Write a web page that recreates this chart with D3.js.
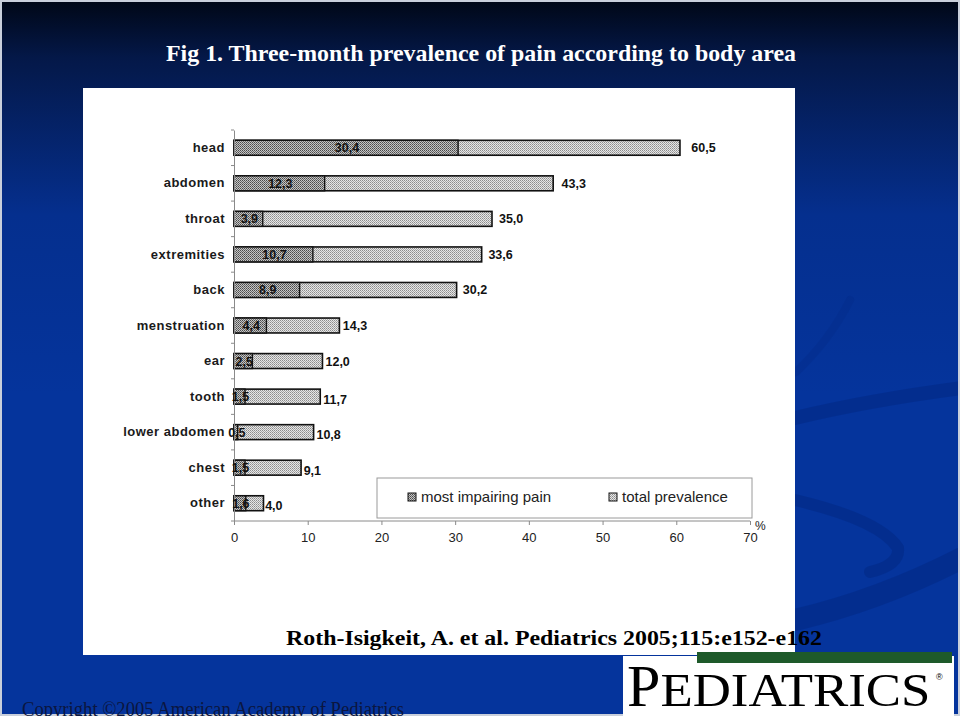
<!DOCTYPE html>
<html>
<head>
<meta charset="utf-8">
<script src="https://cdn.jsdelivr.net/npm/d3@7"></script>
<style>
html,body{margin:0;padding:0;background:#000;}
svg{display:block;}
</style>
</head>
<body>
<svg id="chart" width="960" height="716"></svg>
<script>
// ---- data ----
const categories = ["head","abdomen","throat","extremities","back","menstruation","ear","tooth","lower abdomen","chest","other"];
const totalPrevalence = [60.5,43.3,35.0,33.6,30.2,14.3,12.0,11.7,10.8,9.1,4.0];
const mostImpairing = [30.4,12.3,3.9,10.7,8.9,4.4,2.5,1.5,0.5,1.5,1.6];
const xTickValues = [0,10,20,30,40,50,60,70];
const seriesNames = ["most impairing pain","total prevalence"];
const titleText = "Fig 1. Three-month prevalence of pain according to body area";
const citationText = "Roth-Isigkeit, A. et al. Pediatrics 2005;115:e152-e162";
const copyrightText = "Copyright \u00A92005 American Academy of Pediatrics";

const svg = d3.select("#chart");
const W = 960, H = 716;
const defs = svg.append("defs");

// background gradient
const bg = defs.append("linearGradient").attr("id","bg").attr("x1",0).attr("y1",0).attr("x2",0).attr("y2",1);
bg.append("stop").attr("offset","0").attr("stop-color","#000716");
bg.append("stop").attr("offset","0.08").attr("stop-color","#041848");
bg.append("stop").attr("offset","0.3").attr("stop-color","#052f8e");
bg.append("stop").attr("offset","0.55").attr("stop-color","#05349c");
bg.append("stop").attr("offset","1").attr("stop-color","#05349c");

// patterns
const pTot = defs.append("pattern").attr("id","pTot").attr("width",2).attr("height",2).attr("patternUnits","userSpaceOnUse");
pTot.append("rect").attr("width",2).attr("height",2).attr("fill","#e6e6e6");
pTot.append("rect").attr("width",1).attr("height",1).attr("fill","#8c8c8c");
pTot.append("rect").attr("x",1).attr("y",1).attr("width",1).attr("height",1).attr("fill","#a8a8a8");
const pMip = defs.append("pattern").attr("id","pMip").attr("width",2).attr("height",2).attr("patternUnits","userSpaceOnUse");
pMip.append("rect").attr("width",2).attr("height",2).attr("fill","#c4c4c4");
pMip.append("rect").attr("width",1).attr("height",1).attr("fill","#4a4a4a");
pMip.append("rect").attr("x",1).attr("y",1).attr("width",1).attr("height",1).attr("fill","#6a6a6a");

svg.append("rect").attr("width",W).attr("height",H).attr("fill","url(#bg)");

// background streaks (decorative)
const streaks = svg.append("g").attr("fill","none").attr("stroke","#032a86").attr("stroke-linecap","round").attr("opacity",0.6);
streaks.append("path").attr("d","M795,418 Q870,400 962,388").attr("stroke-width",14);
streaks.append("path").attr("d","M795,500 Q880,520 898,548 Q900,565 870,572").attr("stroke-width",12);
streaks.append("path").attr("d","M795,620 Q880,600 962,558").attr("stroke-width",22);
streaks.append("path").attr("d","M850,300 Q830,340 796,372").attr("stroke-width",8).attr("opacity",0.5);

// border
svg.append("rect").attr("x",1).attr("y",1).attr("width",W-2).attr("height",H-2)
  .attr("fill","none").attr("stroke","#c9cfdb").attr("stroke-width",2);

// title
svg.append("text").attr("x",481).attr("y",61).attr("text-anchor","middle")
  .attr("font-family","'Liberation Serif','Times New Roman',serif").attr("font-weight","bold")
  .attr("font-size",23).attr("fill","#ffffff")
  .attr("textLength",630).attr("lengthAdjust","spacingAndGlyphs").text(titleText);

// white panel
svg.append("rect").attr("x",83).attr("y",88).attr("width",712).attr("height",567).attr("fill","#ffffff");

// scales
const x = d3.scaleLinear().domain([0,70]).range([234,750]);
const y = d3.scaleBand().domain(categories).range([130,521]).paddingInner(0.58).paddingOuter(0.29);

const g = svg.append("g");
const fmt = v => d3.format(".1f")(v).replace(".",",");

// bars: total prevalence
g.selectAll("rect.tot").data(categories).join("rect").attr("class","tot")
  .attr("x",x(0)).attr("y",d=>y(d)).attr("height",y.bandwidth())
  .attr("width",(d,i)=>x(totalPrevalence[i])-x(0))
  .attr("fill","url(#pTot)").attr("stroke","#111").attr("stroke-width",1.6);
// bars: most impairing
g.selectAll("rect.mip").data(categories).join("rect").attr("class","mip")
  .attr("x",x(0)).attr("y",d=>y(d)).attr("height",y.bandwidth())
  .attr("width",(d,i)=>x(mostImpairing[i])-x(0))
  .attr("fill","url(#pMip)").attr("stroke","#111").attr("stroke-width",1.4);

// y axis
const yAxis = d3.axisLeft(y).tickSize(0).tickPadding(9);
const ya = g.append("g").attr("transform",`translate(${x(0)},0)`).call(yAxis);
ya.select(".domain").attr("stroke","#8a8a8a").attr("stroke-width",1);
ya.selectAll("text").attr("font-family","'Liberation Sans',Arial,sans-serif").attr("font-weight","bold")
  .attr("font-size",13).attr("letter-spacing","0.5px").attr("fill","#1a1a1a");
// y ticks at band boundaries
const step = y.step();
const bounds = categories.map(d => y(d) - (step - y.bandwidth())/2).concat([521]);
g.selectAll("line.yt").data(bounds).join("line").attr("class","yt")
  .attr("x1",x(0)-3).attr("x2",x(0)).attr("y1",d=>d).attr("y2",d=>d)
  .attr("stroke","#8a8a8a").attr("stroke-width",1);

// x axis
const xAxis = d3.axisBottom(x).tickValues(xTickValues).tickSize(4).tickPadding(8).tickFormat(d3.format("d"));
const xa = g.append("g").attr("transform","translate(0,521)").call(xAxis);
xa.select(".domain").attr("stroke","#8a8a8a").attr("d","M234,0H750");
xa.selectAll(".tick line").attr("stroke","#8a8a8a");
xa.selectAll("text").attr("font-family","'Liberation Sans',Arial,sans-serif").attr("font-size",13).attr("fill","#222");
g.append("text").attr("x",755).attr("y",530).attr("font-family","'Liberation Sans',Arial,sans-serif")
  .attr("font-size",12).attr("fill","#222").text("%");

// value labels
const lblFont = "'Liberation Sans',Arial,sans-serif";
g.selectAll("text.mipv").data(categories).join("text").attr("class","mipv")
  .attr("x",(d,i)=>(x(0)+x(mostImpairing[i]))/2 + 1)
  .attr("y",d=>y(d)+y.bandwidth()/2+4.5).attr("text-anchor","middle")
  .attr("font-family",lblFont).attr("font-weight","bold").attr("font-size",12.5).attr("fill","#111")
  .text((d,i)=>fmt(mostImpairing[i]));
g.selectAll("text.totv").data(categories).join("text").attr("class","totv")
  .attr("x",(d,i)=>x(totalPrevalence[i]) + 1 + 0.17*totalPrevalence[i])
  .attr("y",(d,i)=>y(d)+y.bandwidth()/2+4.5 + (totalPrevalence[i] < 12 ? 2.5 : 0))
  .attr("font-family",lblFont).attr("font-weight","bold").attr("font-size",12.5).attr("fill","#111")
  .text((d,i)=>fmt(totalPrevalence[i]));

// legend
const leg = g.append("g");
leg.append("rect").attr("x",377).attr("y",478).attr("width",375).attr("height",40)
  .attr("fill","#fff").attr("stroke","#9a9a9a").attr("stroke-width",1);
const legItems = [{name:seriesNames[0],fill:"url(#pMip)",x:408},{name:seriesNames[1],fill:"url(#pTot)",x:609}];
legItems.forEach(it=>{
  leg.append("rect").attr("x",it.x).attr("y",493).attr("width",8).attr("height",8)
    .attr("fill",it.fill).attr("stroke","#111").attr("stroke-width",1);
  leg.append("text").attr("x",it.x+13).attr("y",502).attr("font-family",lblFont)
    .attr("font-size",15).attr("fill","#222").text(it.name);
});

// citation
svg.append("text").attr("x",286).attr("y",645)
  .attr("font-family","'Liberation Serif','Times New Roman',serif").attr("font-weight","bold")
  .attr("font-size",21).attr("fill","#000")
  .attr("textLength",536).attr("lengthAdjust","spacingAndGlyphs").text(citationText);

// logo block
svg.append("rect").attr("x",623).attr("y",656).attr("width",331).attr("height",60).attr("fill","#ffffff");
svg.append("rect").attr("x",697).attr("y",652).attr("width",255).attr("height",11).attr("fill","#1e5a2a");
const logo = svg.append("text").attr("x",627).attr("y",706)
  .attr("font-family","'Liberation Serif','Times New Roman',serif").attr("fill","#000");
logo.append("tspan").attr("font-size",60).text("P");
logo.append("tspan").attr("font-size",47).attr("textLength",270).attr("lengthAdjust","spacingAndGlyphs").text("EDIATRICS");
svg.append("text").attr("x",936).attr("y",680).attr("font-family","'Liberation Sans',Arial,sans-serif")
  .attr("font-size",9).attr("fill","#000").text("\u00AE");

// copyright
svg.append("text").attr("x",22).attr("y",716)
  .attr("font-family","'Liberation Serif','Times New Roman',serif")
  .attr("font-size",20).attr("fill","#0b1640")
  .attr("textLength",382).attr("lengthAdjust","spacingAndGlyphs").text(copyrightText);
</script>
</body>
</html>
